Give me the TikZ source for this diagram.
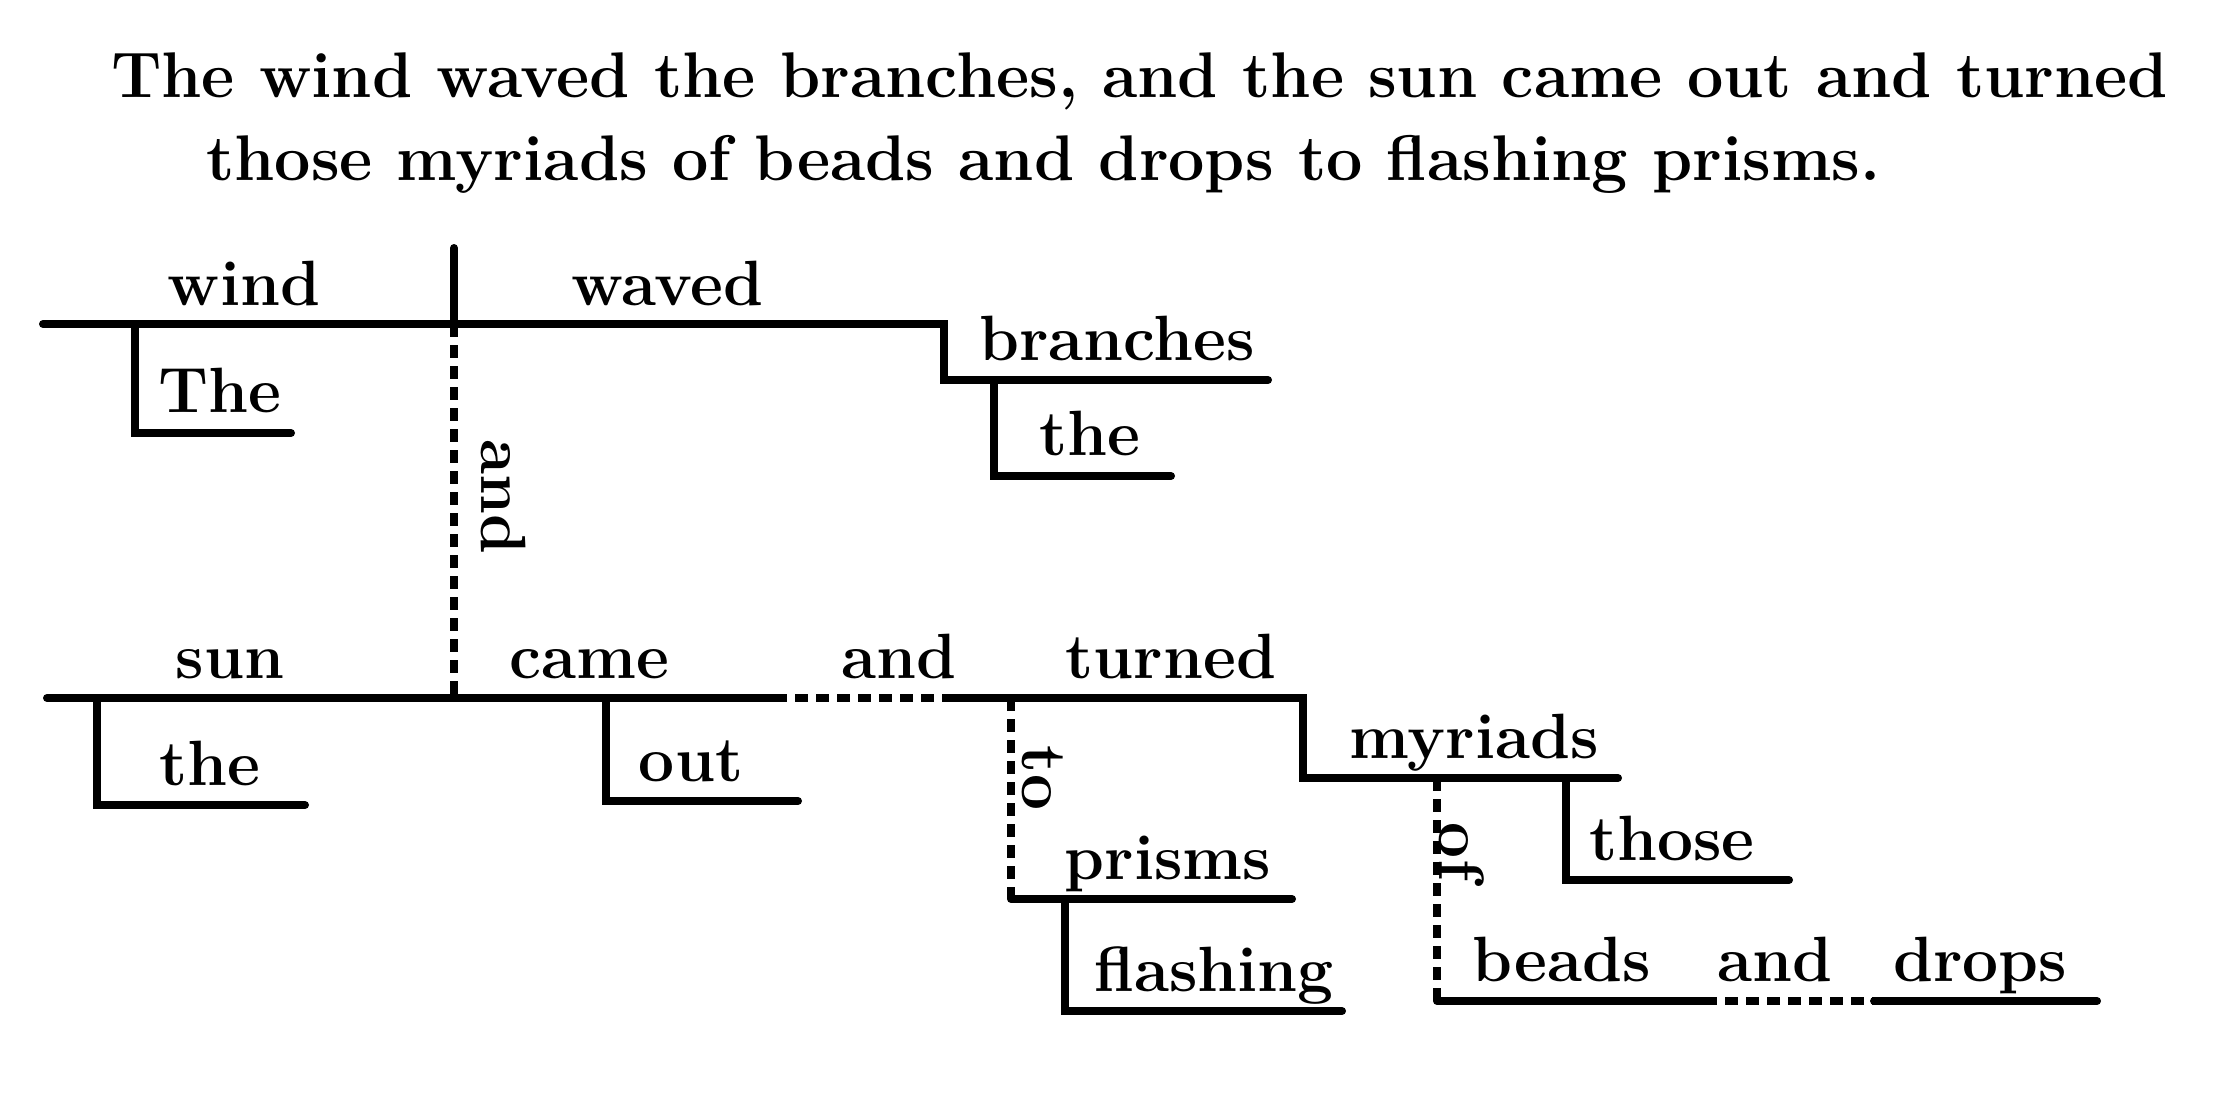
\documentclass[tikz,border=0pt]{standalone}
\usepackage{fontspec}
\setmainfont{Latin Modern Roman}
\begin{document}
\begin{tikzpicture}[x=1pt,y=-1pt,
  ln/.style={line width=8pt,line cap=round,line join=miter},
  dl/.style={line width=8pt,line cap=butt,dash pattern=on 13pt off 8pt},
  wd/.style={inner sep=0pt,anchor=base,font=\fontsize{64}{74}\selectfont\bfseries},
  vw/.style={inner sep=0pt,anchor=center,rotate=-90,font=\fontsize{64}{74}\selectfont\bfseries},
  tt/.style={inner sep=0pt,anchor=base west,font=\fontsize{64.5}{75}\selectfont\bfseries}]
\useasboundingbox (0,0) rectangle (2226,1100);
% title
\node[tt] (t1) at (111,97) {The wind waved the branches, and the sun came out and turned};
\node[tt] (t2) at (206,180) {those myriads of beads and drops to flashing prisms.};
% coordinates
\coordinate (a0) at (43,324);
\coordinate (dv0) at (454,248);
\coordinate (dv1) at (454,324);
\coordinate (dv2) at (454,698);
\coordinate (s1) at (944,324);
\coordinate (s2) at (944,380);
\coordinate (br) at (1268,380);
\coordinate (m1a) at (135,324);
\coordinate (m1b) at (135,433);
\coordinate (m1c) at (291,433);
\coordinate (m2a) at (994,380);
\coordinate (m2b) at (994,476);
\coordinate (m2c) at (1171,476);
% lower
\coordinate (b0) at (47,698);
\coordinate (b1) at (774,698);
\coordinate (b2) at (948,698);
\coordinate (b3) at (1303,698);
\coordinate (b4) at (1303,778);
\coordinate (b5) at (1618,778);
\coordinate (n1a) at (97,698);
\coordinate (n1b) at (97,805);
\coordinate (n1c) at (305,805);
\coordinate (n2a) at (606,698);
\coordinate (n2b) at (606,801);
\coordinate (n2c) at (798,801);
\coordinate (p0) at (1011,698);
\coordinate (p1) at (1011,899);
\coordinate (p2) at (1292,899);
\coordinate (f0) at (1065,899);
\coordinate (f1) at (1065,1011);
\coordinate (f2) at (1342,1011);
\coordinate (h0) at (1566,778);
\coordinate (h1) at (1566,880);
\coordinate (h2) at (1789,880);
\coordinate (o0) at (1437,778);
\coordinate (o1) at (1437,1001);
\coordinate (o2) at (1704,1001);
\coordinate (o3) at (1874,1001);
\coordinate (o4) at (2097,1001);
% top clause lines
\draw[ln] (a0) -- (s1) -- (s2) -- (br);
\draw[ln] (dv0) -- (dv1);
\draw[ln] (m1a) -- (m1b) -- (m1c);
\draw[ln] (m2a) -- (m2b) -- (m2c);
\draw[dl] (dv1) -- (dv2);
% lower clause lines
\draw[ln] (b0) -- (b1);
\draw[dl] (b1) -- (b2);
\draw[ln] (b2) -- (b3) -- (b4) -- (b5);
\draw[ln] (n1a) -- (n1b) -- (n1c);
\draw[ln] (n2a) -- (n2b) -- (n2c);
\draw[dl] (p0) -- (p1);
\draw[ln] (p1) -- (p2);
\draw[ln] (f0) -- (f1) -- (f2);
\draw[ln] (h0) -- (h1) -- (h2);
\draw[dl] (o0) -- (o1);
\draw[ln] (o1) -- (o2);
\draw[dl] (o2) -- (o3);
\draw[ln] (o3) -- (o4);
% words
\node[wd] (wwind) at (244,305) {wind};
\node[wd] (wwaved) at (667,305) {waved};
\node[wd] (wThe) at (220,412) {The};
\node[wd] (wbranches) at (1117,360) {branches};
\node[wd] (wthe1) at (1090,455) {the};
\node[vw] (wand1) at (504,497) {and};
\node[wd] (wsun) at (230,678) {sun};
\node[wd] (wcame) at (589,678) {came};
\node[wd] (wand2) at (899,678) {and};
\node[wd] (wturned) at (1171,678) {turned};
\node[wd] (wthe2) at (210,785) {the};
\node[wd] (wout) at (691,781) {out};
\node[vw] (wto) at (1043,778) {to};
\node[wd] (wprisms) at (1168,879) {prisms};
\node[wd] (wflashing) at (1214,991) {flashing};
\node[wd] (wmyriads) at (1474,758) {myriads};
\node[wd] (wthose) at (1672,860) {those};
\node[vw] (wof) at (1462,852) {of};
\node[wd] (wbeads) at (1562,981) {beads};
\node[wd] (wand3) at (1775,981) {and};
\node[wd] (wdrops) at (1980,981) {drops};
\end{tikzpicture}
\end{document}
